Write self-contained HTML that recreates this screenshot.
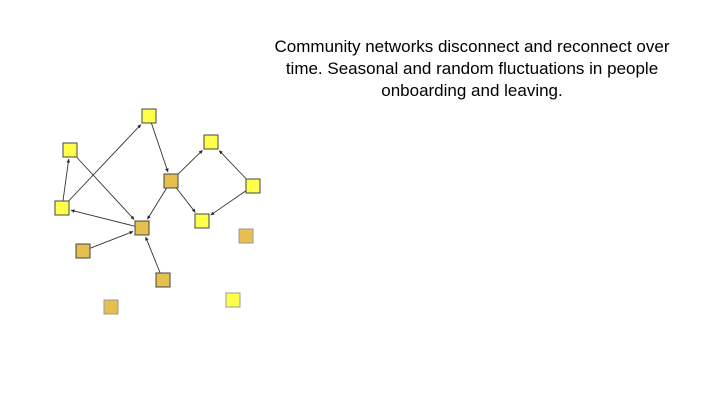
<!DOCTYPE html>
<html><head><meta charset="utf-8"><style>
html,body{margin:0;padding:0;background:#fff;width:720px;height:405px;overflow:hidden}
#t{position:absolute;left:262px;top:36px;width:420px;text-align:center;font-family:"Liberation Sans",sans-serif;font-size:17px;line-height:22px;color:#000}
svg{position:absolute;left:0;top:0}
</style></head><body>
<div id="t">Community networks disconnect and reconnect over time. Seasonal and random fluctuations in people onboarding and leaving.</div>
<svg id="g" width="720" height="405">
<defs><marker id="ar" viewBox="0 0 6 6" refX="6" refY="3" markerWidth="4" markerHeight="4" orient="auto"><path d="M0,0L6,3L0,6z" fill="#222"/></marker></defs>
</svg>
<script>
const nodeIds=["A","B","C","D","E","F","G","H","I","J","K","L","M"];
const nodeX=[149,70,62,142,171,211,253,202,83,163,246,111,233];
const nodeY=[116,150,208,228,181,142,186,221,251,280,236,307,300];
const nodeType=[0,0,0,1,1,0,0,0,1,1,2,2,3];
const edges=[["C","A"],["C","B"],["B","D"],["D","C"],["A","E"],["E","D"],["E","F"],["E","H"],["G","F"],["G","H"],["I","D"],["J","D"]];
const svg=document.getElementById('g');const NS="http://www.w3.org/2000/svg";
const idx=k=>nodeIds.indexOf(k);const h=7;
edges.forEach(e=>{const a=idx(e[0]),b=idx(e[1]);
let x1=nodeX[a],y1=nodeY[a],x2=nodeX[b],y2=nodeY[b];
const dx=x2-x1,dy=y2-y1;const len=Math.hypot(dx,dy);
const s=Math.min(h/Math.abs(dx||1e-9),h/Math.abs(dy||1e-9));
const l=document.createElementNS(NS,'line');
l.setAttribute('x1',x1+dx*s);l.setAttribute('y1',y1+dy*s);
l.setAttribute('x2',x2-dx*(s+2/len));l.setAttribute('y2',y2-dy*(s+2/len));
l.setAttribute('stroke','#333');l.setAttribute('stroke-width','0.9');l.setAttribute('marker-end','url(#ar)');


svg.appendChild(l);});
const fills=["#ffff4a","#e6c04f","#e6c04f","#ffff4a"];
const strokes=["#444","#444","#999","#999"];
nodeIds.forEach((k,i)=>{const r=document.createElementNS(NS,'rect');
r.setAttribute('x',nodeX[i]-h);r.setAttribute('y',nodeY[i]-h);r.setAttribute('width',2*h);r.setAttribute('height',2*h);
r.setAttribute('fill',fills[nodeType[i]]);r.setAttribute('stroke',strokes[nodeType[i]]);r.setAttribute('stroke-width','1');


svg.appendChild(r);});
</script>
</body></html>
